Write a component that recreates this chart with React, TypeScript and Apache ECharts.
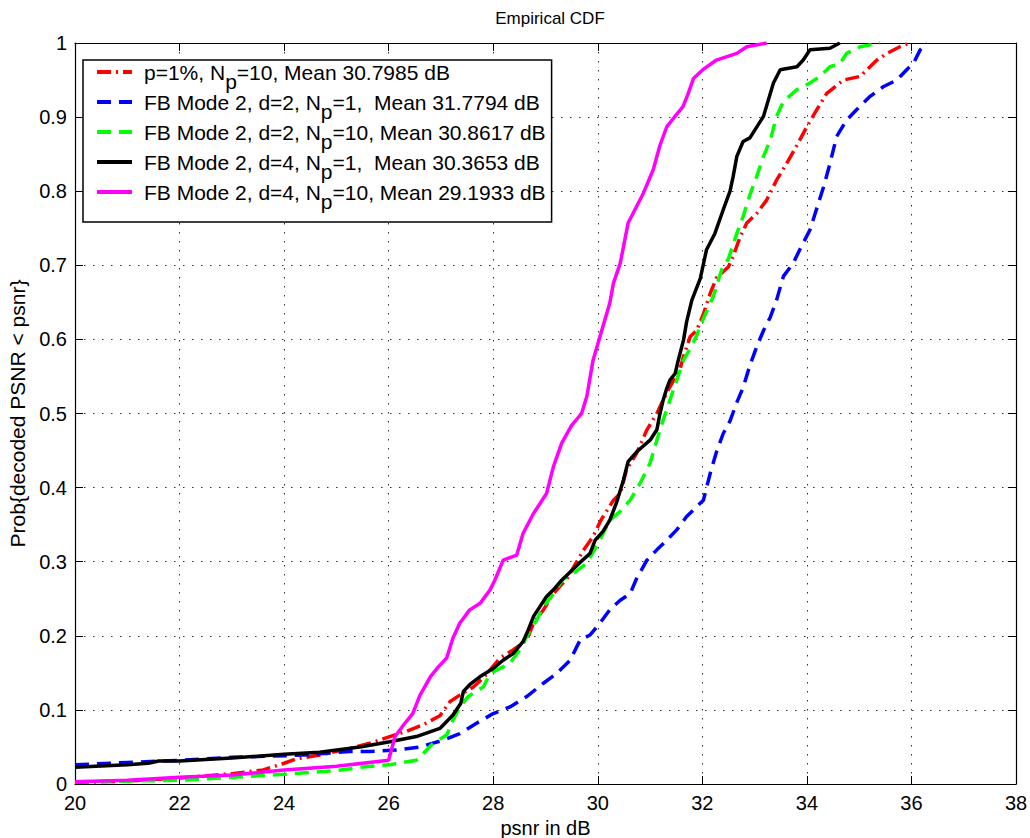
import React, { useEffect, useRef } from "react";
import * as echarts from "echarts";

const FONT = "'Liberation Sans', Arial, Helvetica, sans-serif";

const xTicks = { min: 20, max: 38, interval: 2 };
const yTicks = { min: 0, max: 1, interval: 0.1 };

const titleText = "Empirical CDF";
const xAxisName = "psnr in dB";
const yAxisName = "Prob{decoded PSNR < psnr}";

const legendPre = [
  "p=1%, N",
  "FB Mode 2, d=2, N",
  "FB Mode 2, d=2, N",
  "FB Mode 2, d=4, N",
  "FB Mode 2, d=4, N",
];
const legendPost = [
  "=10, Mean 30.7985 dB",
  "=1,  Mean 31.7794 dB",
  "=10, Mean 30.8617 dB",
  "=1,  Mean 30.3653 dB",
  "=10, Mean 29.1933 dB",
];
const seriesColors = ["#ff0000", "#0000ff", "#00ff00", "#000000", "#ff00ff"];

// p=1%, Np=10
const redX = [20, 21, 22, 23, 23.6, 24, 24.24, 24.68, 25.26, 25.64, 26.02, 26.34, 26.66, 26.98, 27.17, 27.36, 27.62, 27.81, 28.13, 28.38, 28.64, 28.77, 28.96, 29.15, 29.41, 29.72, 29.91, 30.06, 30.3, 30.43, 30.55, 30.74, 30.94, 31.13, 31.25, 31.38, 31.57, 31.64, 31.77, 31.89, 32.02, 32.15, 32.27, 32.5, 32.59, 32.72, 32.85, 33.04, 33.23, 33.42, 33.61, 33.81, 34.0, 34.19, 34.38, 34.7, 35.02, 35.15, 35.34, 35.53, 35.78, 35.97];
const redY = [0.002, 0.004, 0.008, 0.014, 0.019, 0.028, 0.034, 0.039, 0.048, 0.055, 0.064, 0.071, 0.08, 0.092, 0.111, 0.12, 0.131, 0.143, 0.17, 0.181, 0.194, 0.217, 0.235, 0.257, 0.277, 0.315, 0.334, 0.356, 0.383, 0.392, 0.424, 0.446, 0.478, 0.5, 0.518, 0.536, 0.559, 0.577, 0.604, 0.612, 0.634, 0.662, 0.683, 0.698, 0.712, 0.738, 0.757, 0.77, 0.788, 0.815, 0.837, 0.862, 0.887, 0.91, 0.932, 0.95, 0.955, 0.964, 0.977, 0.986, 0.995, 1.0];

// FB Mode 2, d=2, Np=1
const blueX = [20, 21, 22, 23, 23.5, 24.36, 25.26, 25.64, 26.15, 26.6, 27.04, 27.36, 27.68, 28.0, 28.32, 28.64, 28.96, 29.21, 29.47, 29.66, 29.85, 30.04, 30.23, 30.43, 30.62, 30.74, 30.94, 31.13, 31.32, 31.51, 31.7, 31.89, 32.02, 32.15, 32.27, 32.4, 32.53, 32.66, 32.78, 32.91, 33.04, 33.17, 33.3, 33.42, 33.55, 33.74, 33.87, 34.06, 34.32, 34.44, 34.57, 34.76, 34.95, 35.21, 35.46, 35.72, 35.91, 36.04, 36.17, 36.3];
const blueY = [0.026, 0.029, 0.032, 0.036, 0.037, 0.039, 0.044, 0.044, 0.046, 0.05, 0.059, 0.068, 0.082, 0.095, 0.104, 0.118, 0.136, 0.149, 0.167, 0.194, 0.201, 0.217, 0.235, 0.248, 0.257, 0.277, 0.302, 0.316, 0.329, 0.343, 0.361, 0.374, 0.383, 0.419, 0.448, 0.473, 0.49, 0.515, 0.535, 0.565, 0.59, 0.612, 0.63, 0.653, 0.685, 0.703, 0.722, 0.748, 0.806, 0.837, 0.874, 0.896, 0.91, 0.928, 0.941, 0.95, 0.964, 0.973, 0.991, 1.0];

// FB Mode 2, d=2, Np=10
const greenX = [20, 22, 23, 24, 25, 25.51, 26.02, 26.53, 26.66, 26.85, 27.11, 27.23, 27.36, 27.52, 27.81, 27.94, 28.13, 28.32, 28.51, 28.67, 28.83, 28.96, 29.15, 29.34, 29.53, 29.79, 30.04, 30.23, 30.43, 30.62, 30.81, 31.0, 31.13, 31.25, 31.38, 31.51, 31.64, 31.77, 31.89, 32.02, 32.21, 32.37, 32.5, 32.66, 32.78, 32.91, 33.04, 33.17, 33.3, 33.42, 33.55, 33.81, 34.06, 34.25, 34.44, 34.63, 34.76, 35.02, 35.4];
const greenY = [0.003, 0.005, 0.009, 0.013, 0.018, 0.023, 0.026, 0.032, 0.041, 0.055, 0.066, 0.086, 0.104, 0.118, 0.131, 0.149, 0.156, 0.163, 0.181, 0.203, 0.221, 0.239, 0.257, 0.277, 0.284, 0.298, 0.329, 0.356, 0.368, 0.383, 0.406, 0.433, 0.464, 0.491, 0.518, 0.545, 0.572, 0.588, 0.605, 0.628, 0.658, 0.694, 0.709, 0.743, 0.766, 0.795, 0.82, 0.847, 0.869, 0.901, 0.921, 0.937, 0.946, 0.955, 0.968, 0.972, 0.986, 0.995, 1.0];

// FB Mode 2, d=4, Np=1
const blackX = [20, 21, 21.4, 21.6, 22, 23, 24, 24.68, 25.45, 26.02, 26.53, 26.98, 27.23, 27.38, 27.43, 27.55, 27.75, 28.0, 28.19, 28.38, 28.57, 28.67, 28.77, 28.89, 29.02, 29.15, 29.31, 29.6, 29.85, 29.95, 30.1, 30.23, 30.36, 30.49, 30.58, 30.74, 31.0, 31.13, 31.19, 31.25, 31.32, 31.38, 31.48, 31.54, 31.64, 31.7, 31.8, 31.96, 32.08, 32.24, 32.4, 32.53, 32.59, 32.66, 32.78, 32.91, 33.17, 33.36, 33.49, 33.81, 33.93, 34.06, 34.44, 34.63];
const blackY = [0.0225, 0.026, 0.028, 0.031, 0.031, 0.035, 0.04, 0.043, 0.05, 0.057, 0.064, 0.075, 0.093, 0.109, 0.125, 0.134, 0.145, 0.156, 0.167, 0.176, 0.192, 0.208, 0.226, 0.239, 0.253, 0.262, 0.275, 0.295, 0.311, 0.329, 0.341, 0.356, 0.38, 0.41, 0.435, 0.448, 0.464, 0.478, 0.5, 0.518, 0.534, 0.545, 0.554, 0.572, 0.599, 0.624, 0.653, 0.682, 0.721, 0.743, 0.775, 0.8, 0.82, 0.847, 0.867, 0.872, 0.901, 0.946, 0.964, 0.968, 0.977, 0.991, 0.993, 1.0];

// FB Mode 2, d=4, Np=10
const magentaX = [20, 21, 22, 23, 24, 25, 26, 26.12, 26.31, 26.46, 26.6, 26.8, 26.95, 27.11, 27.23, 27.36, 27.55, 27.75, 27.94, 28.03, 28.19, 28.45, 28.57, 28.77, 29.02, 29.15, 29.31, 29.5, 29.69, 29.79, 29.91, 30.08, 30.23, 30.3, 30.43, 30.58, 30.87, 31.06, 31.19, 31.32, 31.5, 31.63, 31.72, 31.83, 32.01, 32.27, 32.66, 32.85, 33.23];
const magentaY = [0.003, 0.005, 0.009, 0.012, 0.019, 0.024, 0.032, 0.064, 0.082, 0.095, 0.12, 0.145, 0.158, 0.17, 0.197, 0.217, 0.235, 0.244, 0.262, 0.275, 0.302, 0.309, 0.338, 0.365, 0.392, 0.428, 0.46, 0.484, 0.5, 0.523, 0.572, 0.613, 0.649, 0.676, 0.703, 0.757, 0.797, 0.829, 0.862, 0.887, 0.903, 0.914, 0.93, 0.952, 0.964, 0.977, 0.986, 0.995, 1.0];

const seriesX = [redX, blueX, greenX, blackX, magentaX];
const seriesY = [redY, blueY, greenY, blackY, magentaY];
const dashTypes: any[] = [[14, 5, 2, 5], [14, 8], [14, 8], "solid", "solid"];

export default function App() {
  const ref = useRef<HTMLDivElement>(null);
  useEffect(() => {
    if (!ref.current) return;
    const chart = echarts.init(ref.current, null, { renderer: "svg" });
    const names = legendPre.map((p, i) => p + "p" + legendPost[i]);
    const axisCommon = {
      type: "value" as const,
      axisLine: { show: true, onZero: false, lineStyle: { color: "#000", width: 1.2 } },
      axisTick: { show: true, inside: true, length: 8, lineStyle: { color: "#000" } },
    };
    const LF = 21;
    const option: any = {
      animation: false,
      backgroundColor: "#fff",
      title: {
        text: titleText,
        left: 545,
        textAlign: "center",
        top: 5,
        textStyle: { fontFamily: FONT, fontSize: 17, fontWeight: "normal", color: "#000" },
      },
      grid: { left: 75, right: 14, top: 43, bottom: 54, containLabel: false, outerBoundsMode: "none" },
      legend: {
        orient: "vertical",
        left: 83,
        top: 60,
        padding: [2, 6, 10, 12],
        itemGap: 0,
        itemWidth: 35,
        itemHeight: 14,
        backgroundColor: "#fff",
        borderColor: "#000",
        borderWidth: 1.5,
        selectedMode: false,
        itemStyle: { opacity: 0, borderWidth: 0 },
        lineStyle: { width: 4 },
        data: names,
        formatter: (name: string) => {
          const i = names.indexOf(name);
          return `{a|${legendPre[i]}}{s|p}{b|${legendPost[i]}}`;
        },
        textStyle: {
          fontFamily: FONT,
          fontSize: LF,
          color: "#000",
          rich: {
            a: { fontFamily: FONT, fontSize: LF, color: "#000", lineHeight: 20, verticalAlign: "top", padding: [0, 0, 0, 7] },
            s: { fontFamily: FONT, fontSize: LF, color: "#000", lineHeight: 20, verticalAlign: "top", padding: [9, 0, 0, 0] },
            b: { fontFamily: FONT, fontSize: LF, color: "#000", lineHeight: 20, verticalAlign: "top" },
          },
        },
      },
      xAxis: [
        {
          ...axisCommon,
          position: "bottom",
          min: xTicks.min,
          max: xTicks.max,
          interval: xTicks.interval,
          name: xAxisName,
          nameLocation: "middle",
          nameGap: 30,
          nameTextStyle: { fontFamily: FONT, fontSize: 20, color: "#000" },
          axisLabel: { fontFamily: FONT, fontSize: 20, color: "#000", margin: 9 },
          splitLine: { show: true, lineStyle: { type: [1.5, 7.5], color: "#333", width: 1 } },
        },
        {
          ...axisCommon,
          position: "top",
          min: xTicks.min,
          max: xTicks.max,
          interval: xTicks.interval,
          axisLabel: { show: false },
          splitLine: { show: false },
        },
      ],
      yAxis: [
        {
          ...axisCommon,
          position: "left",
          min: yTicks.min,
          max: yTicks.max,
          interval: yTicks.interval,
          name: yAxisName,
          nameLocation: "middle",
          nameGap: 46,
          nameTextStyle: { fontFamily: FONT, fontSize: 21, color: "#000" },
          axisLabel: { fontFamily: FONT, fontSize: 20, color: "#000", margin: 8 },
          splitLine: { show: true, lineStyle: { type: [1.5, 7.5], color: "#333", width: 1 } },
        },
        {
          ...axisCommon,
          position: "right",
          min: yTicks.min,
          max: yTicks.max,
          interval: yTicks.interval,
          axisLabel: { show: false },
          splitLine: { show: false },
        },
      ],
      series: names.map((name, i) => ({
        name,
        type: "line",
        xAxisIndex: 0,
        yAxisIndex: 0,
        symbol: "none",
        showSymbol: false,
        clip: true,
        color: seriesColors[i],
        lineStyle: { color: seriesColors[i], width: 3.5, type: dashTypes[i], cap: "butt" },
        data: seriesX[i].map((x, j) => [x, seriesY[i][j]]),
        z: 2 + i,
      })),
    };
    chart.setOption(option);
    return () => chart.dispose();
  }, []);
  return (
    <div
      ref={ref}
      style={{ position: "absolute", left: 0, top: 0, width: 1030, height: 838 }}
    />
  );
}
